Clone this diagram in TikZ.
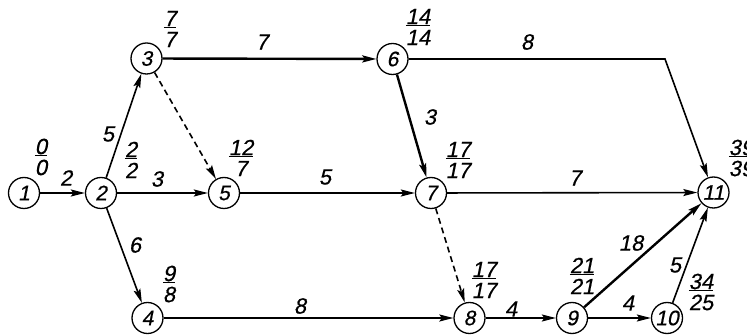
\documentclass[tikz,border=0pt]{standalone}
\usepackage{fontspec}
\setmainfont{Liberation Sans}
\newfontfamily\numfont{Liberation Sans}[FakeSlant=0.2,FakeBold=0.6]
\usetikzlibrary{arrows.meta}
\tikzset{
  ev/.style={circle,draw,line width=1.3pt,minimum size=31pt,inner sep=0pt,font=\fontsize{21}{21}\numfont},
  act/.style={line width=1.6pt,-{Stealth[length=14pt,width=7pt,inset=2.5pt]}},
  crit/.style={act,line width=2.4pt},
  dum/.style={act,dash pattern=on 6pt off 4pt},
  lab/.style={inner sep=0pt,font=\fontsize{22}{22}\numfont},
  frac/.style={inner sep=0pt,align=center,font=\fontsize{22}{21}\numfont}
}
\begin{document}
\begin{tikzpicture}[x=1pt,y=-1pt]
\useasboundingbox (0,0) rectangle (747,336);
\fill[white] (0,0) rectangle (747,336);
\node[ev] (n1) at (24,193) {1};
\node[ev] (n2) at (101,193) {2};
\node[ev] (n3) at (146.5,58.5) {3};
\node[ev] (n4) at (147.5,318) {4};
\node[ev] (n5) at (224,193) {5};
\node[ev] (n6) at (392.5,59) {6};
\node[ev] (n7) at (431,193) {7};
\node[ev] (n8) at (469.5,318) {8};
\node[ev] (n9) at (572,318) {9};
\node[ev] (n10) at (667,318) {10};
\node[ev] (n11) at (713.5,192.5) {11};
\coordinate (c611) at (665,59);
% activities
\draw[act] (n1) -- (n2);
\draw[act] (n2) -- (n3);
\draw[act] (n2) -- (n5);
\draw[act] (n2) -- (n4);
\draw[crit] (n3) -- (n6);
\draw[dum] (n3) -- (n5);
\draw[act] (n5) -- (n7);
\draw[act] (n6) -- (c611) -- (n11);
\draw[crit] (n6) -- (n7);
\draw[act] (n7) -- (n11);
\draw[dum] (n7) -- (n8);
\draw[act] (n4) -- (n8);
\draw[act] (n8) -- (n9);
\draw[crit] (n9) -- (n11);
\draw[act] (n9) -- (n10);
\draw[act] (n10) -- (n11);
% activity durations
\node[lab] (l12) at (66,178) {2};
\node[lab] (l23) at (108,134) {5};
\node[lab] (l25) at (157,179) {3};
\node[lab] (l24) at (135,245) {6};
\node[lab] (l36) at (262,42) {7};
\node[lab] (l611) at (527,42) {8};
\node[lab] (l67) at (430,117) {3};
\node[lab] (l57) at (325,177) {5};
\node[lab] (l711) at (575,178) {7};
\node[lab] (l48) at (300,306) {8};
\node[lab] (l89) at (511,309) {4};
\node[lab] (l911) at (631,243) {18};
\node[lab] (l910) at (628,303) {4};
\node[lab] (l1011) at (675,265) {5};
% event times
\node[frac] (f1) at (41,157) {\underline{0}\\0};
\node[frac] (f2) at (131,160) {\underline{2}\\2};
\node[frac] (f3) at (170,29) {\underline{7}\\7};
\node[frac] (f5) at (241,158) {\underline{12}\\7};
\node[frac] (f6) at (418,27) {\underline{14}\\14};
\node[frac] (f7) at (458,160) {\underline{17}\\17};
\node[frac] (f11) at (741,158) {\underline{39}\\39};
\node[frac] (f4) at (169,284) {\underline{9}\\8};
\node[frac] (f8) at (484,280) {\underline{17}\\17};
\node[frac] (f9) at (582,276) {\underline{21}\\21};
\node[frac] (f10) at (701,292) {\underline{34}\\25};
\end{tikzpicture}
\end{document}
